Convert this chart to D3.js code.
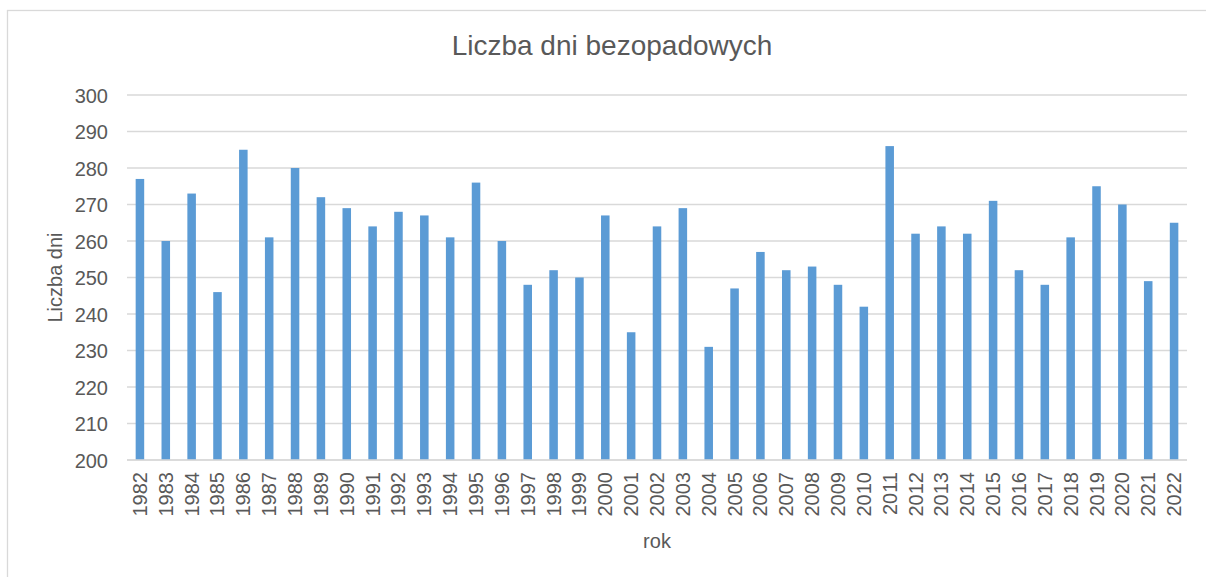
<!DOCTYPE html>
<html>
<head>
<meta charset="utf-8">
<script src="https://cdn.jsdelivr.net/npm/d3@7"></script>
<style>
  body { margin: 0; background: #fff; }
  text { font-family: "Liberation Sans", Arial, sans-serif; fill: #595959; }
</style>
</head>
<body>
<svg id="chart"></svg>
<script>
var years = ["1982","1983","1984","1985","1986","1987","1988","1989","1990","1991",
  "1992","1993","1994","1995","1996","1997","1998","1999","2000","2001",
  "2002","2003","2004","2005","2006","2007","2008","2009","2010","2011",
  "2012","2013","2014","2015","2016","2017","2018","2019","2020","2021","2022"];
var days = [277,260,273,246,285,261,280,272,269,264,
  268,267,261,276,260,248,252,250,267,235,
  264,269,231,247,257,252,253,248,242,286,
  262,264,262,271,252,248,261,275,270,249,265];
var yTicks = [200,210,220,230,240,250,260,270,280,290,300];

var W = 1206, H = 577;
var plotLeft = 127, plotRight = 1187, plotTop = 95, plotBottom = 460;

var svg = d3.select("#chart")
  .attr("width", W)
  .attr("height", H);

// chart frame
svg.append("rect")
  .attr("x", 7.5).attr("y", 10.5)
  .attr("width", W).attr("height", H)
  .attr("fill", "none")
  .attr("stroke", "#d9d9d9")
  .attr("stroke-width", 1.3);

var x = d3.scaleBand()
  .domain(years)
  .range([plotLeft, plotRight])
  .paddingInner(0.67)
  .paddingOuter(0.335);

var y = d3.scaleLinear()
  .domain([200, 300])
  .range([plotBottom, plotTop]);

// gridlines
svg.append("g")
  .selectAll("line")
  .data(yTicks)
  .enter()
  .append("line")
  .attr("x1", plotLeft).attr("x2", plotRight)
  .attr("y1", function(d){ return y(d); })
  .attr("y2", function(d){ return y(d); })
  .attr("stroke", "#d9d9d9")
  .attr("stroke-width", 1.3);

// y labels
var yAxis = d3.axisLeft(y).tickValues(yTicks).tickSize(0).tickPadding(0);
var gy = svg.append("g")
  .attr("transform", "translate(108,0)")
  .call(yAxis);
gy.select(".domain").remove();
gy.selectAll("text")
  .attr("font-size", 20)
  .attr("dy", "0.35em")
  .attr("fill", "#595959");

// bars
svg.append("g")
  .selectAll("rect")
  .data(days)
  .enter()
  .append("rect")
  .attr("x", function(d, i){ return x(years[i]); })
  .attr("width", x.bandwidth())
  .attr("y", function(d){ return y(d); })
  .attr("height", function(d){ return plotBottom - y(d); })
  .attr("fill", "#5b9bd5");

// x labels
var xAxis = d3.axisBottom(x).tickSize(0).tickPadding(0);
var gx = svg.append("g")
  .attr("transform", "translate(0," + plotBottom + ")")
  .call(xAxis);
gx.select(".domain").remove();
gx.selectAll("text")
  .attr("font-size", 20)
  .attr("fill", "#595959")
  .attr("transform", "rotate(-90)")
  .attr("text-anchor", "end")
  .attr("x", -12)
  .attr("y", 0)
  .attr("dy", "0.35em");

// base line
svg.append("line")
  .attr("x1", plotLeft).attr("x2", plotRight)
  .attr("y1", plotBottom).attr("y2", plotBottom)
  .attr("stroke", "#d9d9d9")
  .attr("stroke-width", 1.3);

// titles
svg.append("text")
  .attr("x", (plotLeft + plotRight) / 2 - 45)
  .attr("y", 55)
  .attr("text-anchor", "middle")
  .attr("font-size", 28)
  .text("Liczba dni bezopadowych");

svg.append("text")
  .attr("transform", "translate(62," + ((plotTop + plotBottom) / 2) + ") rotate(-90)")
  .attr("text-anchor", "middle")
  .attr("font-size", 20)
  .text("Liczba dni");

svg.append("text")
  .attr("x", (plotLeft + plotRight) / 2)
  .attr("y", 548)
  .attr("text-anchor", "middle")
  .attr("font-size", 20)
  .text("rok");
</script>
</body>
</html>
